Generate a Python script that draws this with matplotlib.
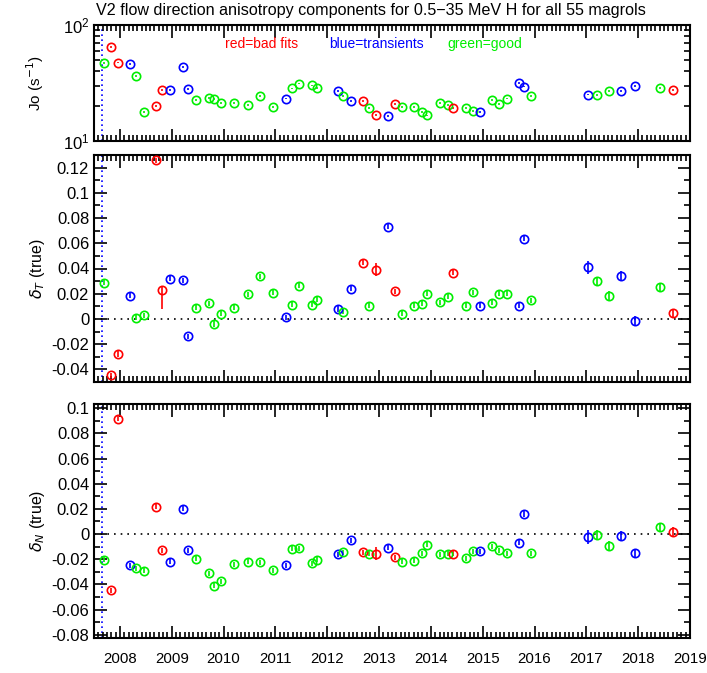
import numpy as np
import matplotlib.pyplot as plt
from matplotlib.ticker import MultipleLocator, FixedLocator, FuncFormatter, NullFormatter

plt.rcParams['font.family'] = ['Liberation Sans', 'DejaVu Sans']

# time of each magrol (decimal year)
t = [2007.70, 2007.82, 2007.96, 2008.20, 2008.32, 2008.46, 2008.70, 2008.82, 2008.97,
     2009.21, 2009.32, 2009.47, 2009.72, 2009.82, 2009.96, 2010.21, 2010.47, 2010.71,
     2010.95, 2011.20, 2011.32, 2011.46, 2011.70, 2011.81, 2012.20, 2012.31, 2012.45,
     2012.69, 2012.80, 2012.94, 2013.17, 2013.30, 2013.44, 2013.68, 2013.82, 2013.93,
     2014.18, 2014.34, 2014.43, 2014.68, 2014.82, 2014.95, 2015.17, 2015.31, 2015.47,
     2015.70, 2015.80, 2015.94, 2017.03, 2017.20, 2017.43, 2017.67, 2017.93, 2018.43,
     2018.67]

# r = bad fit, b = transient, g = good
flag = ['g', 'r', 'r', 'b', 'g', 'g', 'r', 'r', 'b', 'b', 'b', 'g', 'g', 'g', 'g', 'g',
        'g', 'g', 'g', 'b', 'g', 'g', 'g', 'g', 'b', 'g', 'b', 'r', 'g', 'r', 'b', 'r',
        'g', 'g', 'g', 'g', 'g', 'g', 'r', 'g', 'g', 'b', 'g', 'g', 'g', 'b', 'b', 'g',
        'b', 'g', 'g', 'b', 'b', 'g', 'r']

j0 = [47.2, 64.6, 47.5, 46.4, 36.4, 17.7, 20.0, 27.7, 27.3, 43.2, 28.0, 22.6, 23.5, 23.1,
      21.2, 21.3, 20.4, 24.3, 19.7, 23.2, 28.4, 31.3, 30.1, 28.8, 27.0, 24.3, 22.0, 22.0,
      19.2, 16.8, 16.5, 21.0, 19.7, 19.6, 17.8, 16.6, 21.3, 20.5, 19.1, 19.3, 18.2, 17.9,
      22.4, 20.8, 23.2, 31.5, 29.5, 24.4, 25.1, 24.8, 27.0, 26.8, 29.7, 28.6, 27.5]
j0_err = [0.8, 1.0, 0.8, 0.8, 0.7, 0.4, 0.4, 0.5, 0.5, 0.8, 0.5, 0.4, 0.4, 0.4, 0.4, 0.4,
          0.4, 0.4, 0.4, 0.4, 0.5, 0.5, 0.5, 0.5, 0.5, 0.4, 0.4, 0.4, 0.4, 0.3, 0.3, 0.4,
          0.4, 0.4, 0.3, 0.3, 0.4, 0.4, 0.4, 0.4, 0.3, 0.3, 0.4, 0.4, 0.4, 0.5, 0.5, 0.4,
          0.4, 0.4, 0.5, 0.5, 0.5, 0.5, 0.5]

dT = [0.0286, -0.0448, -0.0278, 0.0185, 0.0008, 0.0029, 0.126, 0.023, 0.0318, 0.0305,
      -0.0138, 0.0087, 0.0125, -0.004, 0.0042, 0.0087, 0.0196, 0.0339, 0.0207, 0.0013,
      0.0114, 0.0265, 0.0111, 0.0154, 0.0079, 0.0056, 0.0238, 0.0445, 0.0103, 0.039,
      0.0731, 0.022, 0.0042, 0.0106, 0.0119, 0.0201, 0.0132, 0.0175, 0.0366, 0.0103,
      0.0212, 0.0103, 0.013, 0.0199, 0.0201, 0.0106, 0.0636, 0.0148, 0.0408, 0.030,
      0.0183, 0.0344, -0.0013, 0.0252, 0.0045]
dT_lo = [0.002, 0.002, 0.002, 0.002, 0.002, 0.002, 0.002, 0.015, 0.002, 0.002, 0.002,
         0.002, 0.002, 0.002, 0.002, 0.002, 0.002, 0.002, 0.002, 0.002, 0.002, 0.002,
         0.002, 0.002, 0.002, 0.002, 0.002, 0.002, 0.002, 0.005, 0.002, 0.002, 0.002,
         0.002, 0.002, 0.002, 0.002, 0.002, 0.002, 0.002, 0.002, 0.002, 0.002, 0.002,
         0.002, 0.002, 0.002, 0.002, 0.0055, 0.0035, 0.0035, 0.0035, 0.0035, 0.0035, 0.0035]
dT_hi = [0.002, 0.002, 0.002, 0.002, 0.002, 0.002, 0.002, 0.002, 0.002, 0.002, 0.002,
         0.002, 0.002, 0.002, 0.002, 0.002, 0.002, 0.002, 0.002, 0.002, 0.002, 0.002,
         0.002, 0.002, 0.002, 0.002, 0.002, 0.002, 0.002, 0.005, 0.002, 0.002, 0.002,
         0.002, 0.002, 0.002, 0.002, 0.002, 0.002, 0.002, 0.002, 0.002, 0.002, 0.002,
         0.002, 0.002, 0.002, 0.002, 0.0055, 0.0035, 0.0035, 0.0035, 0.0035, 0.0035, 0.0035]

dN = [-0.0204, -0.0445, 0.0914, -0.0249, -0.0273, -0.0291, 0.0215, -0.013, -0.022, 0.0199,
      -0.013, -0.0196, -0.031, -0.0411, -0.0374, -0.0241, -0.022, -0.0225, -0.0286, -0.0249,
      -0.0117, -0.0114, -0.0233, -0.0204, -0.0159, -0.0143, -0.0048, -0.0143, -0.0156,
      -0.0156, -0.0109, -0.0185, -0.022, -0.0212, -0.0151, -0.0085, -0.0162, -0.0156,
      -0.0156, -0.0193, -0.0135, -0.0138, -0.0098, -0.013, -0.0151, -0.0069, 0.0159,
      -0.0151, -0.0026, -0.0005, -0.0093, -0.0013, -0.0151, 0.0056, 0.0019]
dN_err = [0.002, 0.002, 0.002, 0.002, 0.002, 0.002, 0.002, 0.002, 0.002, 0.002, 0.002,
          0.002, 0.002, 0.002, 0.002, 0.002, 0.002, 0.002, 0.002, 0.002, 0.002, 0.002,
          0.002, 0.002, 0.002, 0.002, 0.002, 0.002, 0.002, 0.005, 0.002, 0.002, 0.002,
          0.002, 0.002, 0.002, 0.002, 0.002, 0.002, 0.002, 0.002, 0.002, 0.002, 0.002,
          0.002, 0.002, 0.002, 0.002, 0.0057, 0.0035, 0.0035, 0.0035, 0.0035, 0.0035, 0.0035]

tshock = 2007.66
colors = {'r': '#ff0000', 'b': '#0000ff', 'g': '#00ee00'}


def draw_points(ax, y, lo, hi):
    for i in range(len(t)):
        c = colors[flag[i]]
        ax.errorbar([t[i]], [y[i]], yerr=[[lo[i]], [hi[i]]], fmt='o', mfc='none',
                    mec=c, ecolor=c, ms=6, mew=1.2, elinewidth=1.2, capsize=0, zorder=3)


def style_axes(ax):
    ax.set_xlim(2007.5, 2019)
    ax.xaxis.set_major_locator(MultipleLocator(1))
    ax.xaxis.set_minor_locator(MultipleLocator(1 / 12.))
    ax.tick_params(which='both', direction='in', top=True, right=True, width=1.2,
                   labelsize=12)
    ax.tick_params(which='major', length=9)
    ax.tick_params(which='minor', length=4.5)
    for s in ax.spines.values():
        s.set_linewidth(1.5)
    ax.axvline(tshock, color='#0000ff', ls=(0, (1, 2)), lw=1.2, zorder=1)


fig = plt.figure(figsize=(7.07, 6.73), dpi=100)
W, H = 707., 673.
x0, x1 = 94 / W, 690 / W

ax1 = fig.add_axes([x0, 1 - 141 / H, x1 - x0, 116 / H])
ax2 = fig.add_axes([x0, 1 - 382 / H, x1 - x0, 227 / H])
ax3 = fig.add_axes([x0, 1 - 638 / H, x1 - x0, 234 / H])

# top panel: Jo
ax1.set_yscale('log')
draw_points(ax1, j0, j0_err, j0_err)
style_axes(ax1)
ax1.set_ylim(10, 100)
ax1.yaxis.set_major_locator(FixedLocator([10, 100]))
ax1.yaxis.set_major_formatter(FuncFormatter(lambda v, p: r'$\mathregular{10^{%d}}$' % round(np.log10(v))))
ax1.yaxis.set_minor_locator(FixedLocator([20, 30, 40, 50, 60, 70, 80, 90]))
ax1.yaxis.set_minor_formatter(NullFormatter())
ax1.xaxis.set_major_formatter(NullFormatter())
ax1.set_ylabel(r'Jo (s$^{-1}$)', fontsize=11)
ax1.yaxis.set_label_coords(-0.08, 0.5)
ax1.text(2010.03, 68, 'red=bad fits', color='#ff0000', fontsize=10, va='center')
ax1.text(2012.04, 68, 'blue=transients', color='#0000ff', fontsize=10, va='center')
ax1.text(2014.32, 68, 'green=good', color='#00ee00', fontsize=10, va='center')

fmt = FuncFormatter(lambda v, p: '%g' % round(v, 4))

# middle panel: delta T
draw_points(ax2, dT, dT_lo, dT_hi)
style_axes(ax2)
ax2.axhline(0, color='k', ls=(0, (1, 3)), lw=1.2, zorder=1)
ax2.set_ylim(-0.05, 0.13)
ax2.yaxis.set_major_locator(MultipleLocator(0.02))
ax2.yaxis.set_minor_locator(MultipleLocator(0.01))
ax2.yaxis.set_major_formatter(fmt)
ax2.xaxis.set_major_formatter(NullFormatter())
ax2.set_ylabel(r'$\delta_T$ (true)', fontsize=11.5)
ax2.yaxis.set_label_coords(-0.079, 0.5)

# bottom panel: delta N
draw_points(ax3, dN, dN_err, dN_err)
style_axes(ax3)
ax3.axhline(0, color='k', ls=(0, (1, 3)), lw=1.2, zorder=1)
ax3.set_ylim(-0.0826, 0.1033)
ax3.yaxis.set_major_locator(MultipleLocator(0.02))
ax3.yaxis.set_minor_locator(MultipleLocator(0.01))
ax3.yaxis.set_major_formatter(fmt)
ax3.xaxis.set_major_formatter(FuncFormatter(lambda v, p: '%d' % round(v)))
ax3.tick_params(axis='x', pad=10, labelsize=10.8)
ax3.set_ylabel(r'$\delta_N$ (true)', fontsize=11.5)
ax3.yaxis.set_label_coords(-0.079, 0.5)

fig.text(96 / W, 1 - 11 / H,
         'V2 flow direction anisotropy components for 0.5\u221235 MeV H for all 55 magrols',
         fontsize=11.6, va='center', ha='left')

fig.savefig('out.png', dpi=100)
